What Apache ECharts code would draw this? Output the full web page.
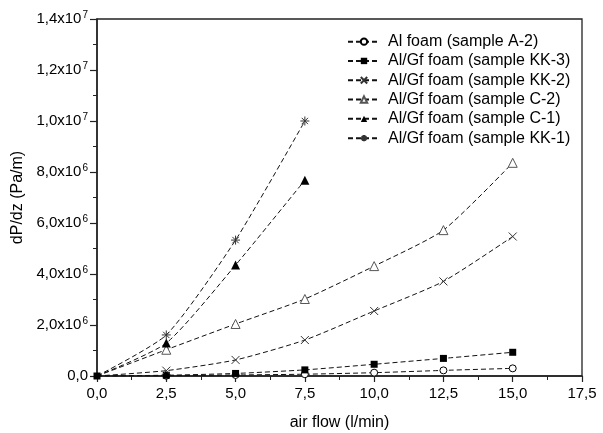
<!DOCTYPE html>
<html><head><meta charset="utf-8">
<script src="https://cdn.jsdelivr.net/npm/echarts@6/dist/echarts.min.js"></script>
<style>html,body{margin:0;padding:0;background:#fff}#c{width:603px;height:433px}</style>
</head><body><div id="c"></div>
<script>
const xValues = [0, 2.5, 5, 7.5, 10, 12.5, 15];
const xValuesShort = [0, 2.5, 5, 7.5];
const seriesNames = ['Al foam (sample A-2)', 'Al/Gf foam (sample KK-3)', 'Al/Gf foam (sample KK-2)', 'Al/Gf foam (sample C-2)', 'Al/Gf foam (sample C-1)', 'Al/Gf foam (sample KK-1)'];
const a2  = [0, 0.01e6, 0.04e6, 0.07e6, 0.13e6, 0.22e6, 0.30e6];
const kk3 = [0, 0.03e6, 0.10e6, 0.24e6, 0.46e6, 0.69e6, 0.93e6];
const kk2 = [0, 0.21e6, 0.63e6, 1.41e6, 2.55e6, 3.71e6, 5.47e6];
const c2  = [0, 1.03e6, 2.04e6, 3.02e6, 4.31e6, 5.72e6, 8.36e6];
const c1  = [0, 1.29e6, 4.35e6, 7.68e6];
const kk1 = [0, 1.61e6, 5.33e6, 10.0e6];
const xTickLabels = ['0,0','2,5','5,0','7,5','10,0','12,5','15,0','17,5'];

const X_PATH = 'path://M0,0L10,10M10,0L0,10';
const STAR_PATH = 'path://M0,5L10,5M5,0L5,10M1.5,1.5L8.5,8.5M8.5,1.5L1.5,8.5';

function pairs(xs, ys, showOrigin) {
  return ys.map((v, i) => {
    const item = { value: [xs[i], v] };
    if (i === 0 && !showOrigin) item.symbol = 'none';
    return item;
  });
}

const styles = [
  { symbol: 'circle', size: 7, data: pairs(xValues, a2, false), item: { color: '#fff', borderColor: '#000', borderWidth: 1 } },
  { symbol: 'rect', size: 7, data: pairs(xValues, kk3, true), item: { color: '#000' } },
  { symbol: X_PATH, size: 8, data: pairs(xValues, kk2, false), item: { color: 'rgba(0,0,0,0)', borderColor: '#333', borderWidth: 1 } },
  { symbol: 'triangle', size: 9, data: pairs(xValues, c2, false), item: { color: '#fff', borderColor: '#555', borderWidth: 1 } },
  { symbol: 'triangle', size: 9, data: pairs(xValuesShort, c1, false), item: { color: '#000' } },
  { symbol: STAR_PATH, size: 9, data: pairs(xValuesShort, kk1, false), item: { color: 'rgba(0,0,0,0)', borderColor: '#333', borderWidth: 1 } }
];

const series = styles.map((s, i) => ({
  name: seriesNames[i],
  type: 'line',
  data: s.data,
  smooth: 0.2,
  symbol: s.symbol,
  symbolSize: s.size,
  showAllSymbol: true,
  itemStyle: s.item,
  lineStyle: { color: '#111', width: 1, type: [5, 3] },
  emphasis: { disabled: true },
  z: 3
}));

function yLabel(v) {
  if (v === 0) return '0,0';
  const e = Math.floor(Math.log10(v) + 1e-9);
  const m = (v / Math.pow(10, e)).toFixed(1).replace('.', ',');
  return m + 'x10{s|' + e + '}';
}

const FONT = 'Liberation Sans, Arial, sans-serif';
const chart = echarts.init(document.getElementById('c'), null, { renderer: 'canvas' });
chart.setOption({
  backgroundColor: '#fff',
  animation: false,
  textStyle: { fontFamily: FONT, color: '#000' },
  grid: { left: 97, right: 21, top: 19, bottom: 57, containLabel: false, outerBoundsMode: 'none', show: true, borderColor: '#222', borderWidth: 1.3, backgroundColor: 'transparent' },
  legend: {
    orient: 'vertical', left: 347, top: 32, padding: 0,
    itemWidth: 32, itemHeight: 8, itemGap: 0,
    textStyle: { fontSize: 16, lineHeight: 19.3, color: '#000', fontFamily: FONT, padding: [0, 0, 0, 3] },
    data: seriesNames
  },
  xAxis: {
    type: 'value', min: 0, max: 17.5, interval: 2.5,
    name: 'air flow (l/min)', nameLocation: 'middle', nameGap: 39,
    nameTextStyle: { fontSize: 16, color: '#000', fontFamily: FONT },
    axisLine: { show: true, onZero: false, lineStyle: { color: '#222', width: 1.5 } },
    axisTick: { show: true, inside: false, length: 6, lineStyle: { color: '#222', width: 1.2 } },
    minorTick: { show: true, splitNumber: 2, length: 4, lineStyle: { color: '#222', width: 1 } },
    axisLabel: { fontSize: 15, color: '#000', margin: 10, formatter: v => xTickLabels[Math.round(v / 2.5)] },
    splitLine: { show: false }
  },
  yAxis: {
    type: 'value', min: 0, max: 1.4e7, interval: 2e6,
    name: 'dP/dz (Pa/m)', nameLocation: 'middle', nameGap: 69, nameRotate: 90,
    nameTextStyle: { fontSize: 16, color: '#000', fontFamily: FONT },
    axisLine: { show: true, onZero: false, lineStyle: { color: '#222', width: 1.5 } },
    axisTick: { show: true, inside: false, length: 7, lineStyle: { color: '#222', width: 1.2 } },
    minorTick: { show: true, splitNumber: 2, length: 4, lineStyle: { color: '#222', width: 1 } },
    axisLabel: {
      fontSize: 15, color: '#000', margin: 9,
      formatter: v => yLabel(v),
      rich: { s: { fontSize: 10, verticalAlign: 'top', padding: [0, 0, 8, 1], color: '#000', fontFamily: FONT } }
    },
    splitLine: { show: false }
  },
  series: series
});
</script>
</body></html>
